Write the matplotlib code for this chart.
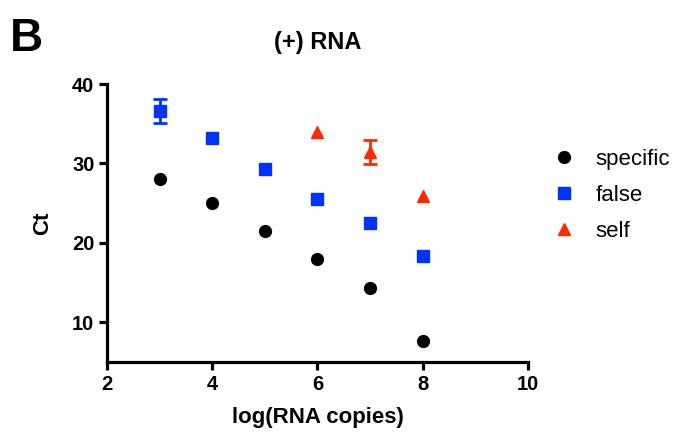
import matplotlib
matplotlib.use("Agg")
from matplotlib import pyplot as plt
import numpy as np

plt.rcParams['font.family'] = ['Liberation Sans', 'DejaVu Sans']

# data
x = [3, 4, 5, 6, 7, 8]
specific = [28.1, 25.0, 21.5, 18.0, 14.3, 7.6]
false_ct = [36.6, 33.2, 29.3, 25.5, 22.5, 18.3]
false_err = [1.55, 0, 0, 0, 0, 0]
x_self = [6, 7, 8]
self_ct = [34.0, 31.4, 25.9]
self_err = [0, 1.5, 0]

blue = '#0033ff'
red = '#ff2a00'

fig = plt.figure(figsize=(6.75, 4.37), dpi=100)
ax = fig.add_axes([0.1585, 0.1716, 0.6237, 0.636])

ax.plot(x, specific, 'o', color='black', ms=8.5, label='specific', zorder=3)
ax.plot(x, false_ct, 's', color=blue, ms=8.5, label='false', zorder=3)
ax.plot(x_self, self_ct, '^', color=red, ms=8, label='self', zorder=3)

# error bars only where there is a spread
for xs, ys, es, c in [(x, false_ct, false_err, blue), (x_self, self_ct, self_err, red)]:
    xs, ys, es = np.array(xs), np.array(ys), np.array(es)
    m = es > 0
    ax.errorbar(xs[m], ys[m], yerr=es[m], fmt='none', ecolor=c,
                elinewidth=2, capsize=5, capthick=2, zorder=2)

ax.set_xlim(2, 10)
ax.set_ylim(5, 40)
ax.set_xticks([2, 4, 6, 8, 10])
ax.set_yticks([10, 20, 30, 40])

for s in ['top', 'right']:
    ax.spines[s].set_visible(False)
for s in ['left', 'bottom']:
    ax.spines[s].set_linewidth(2.3)
    ax.spines[s].set_capstyle('projecting')
ax.tick_params(width=2.3, length=6, labelsize=14.5, pad=3)
for lab in ax.get_xticklabels() + ax.get_yticklabels():
    lab.set_fontweight('bold')

ax.set_xlabel('log(RNA copies)', fontsize=16, fontweight='bold', labelpad=10)
ax.set_ylabel('Ct', fontsize=16, fontweight='bold', labelpad=14)
ax.set_title('(+) RNA', fontsize=17, fontweight='bold', pad=25)

fig.text(0.015, 0.962, 'B', fontsize=33, fontweight='bold', va='top', ha='left')

fig.legend(loc='center left', bbox_to_anchor=(0.79, 0.553), frameon=False,
           fontsize=16, handletextpad=0.9, labelspacing=0.68, handlelength=1.0)

plt.savefig('out.png', dpi=100)
